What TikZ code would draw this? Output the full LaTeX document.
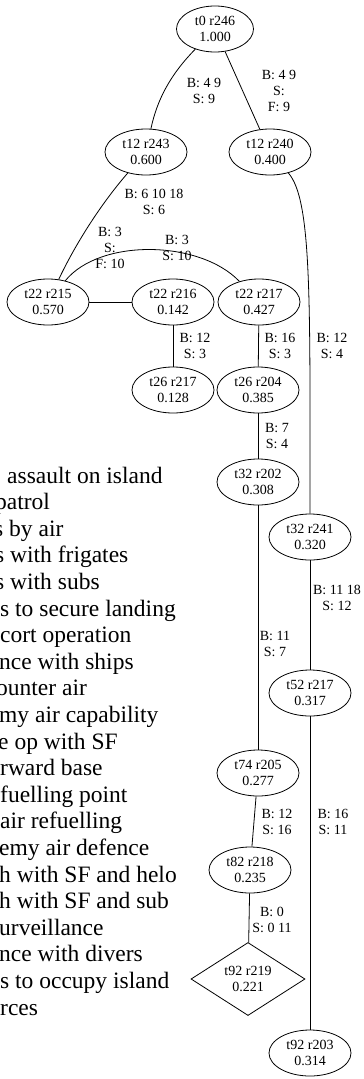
\documentclass[tikz,border=0pt]{standalone}
\usepackage{fontspec}
\setmainfont{Liberation Serif}
\usetikzlibrary{shapes.geometric}
\newcommand{\statefont}{\fontsize{14}{16.5}\selectfont}
\newcommand{\edgefont}{\fontsize{14}{16}\selectfont}
\newcommand{\keyfont}{\fontsize{23.5}{26}\selectfont}

\begin{document}
\begin{tikzpicture}[
    x=1pt, y=-1pt,
    state/.style={ellipse, draw, line width=0.8pt, minimum width=82pt, minimum height=46pt, inner sep=0pt, align=center, font=\statefont},
    goal/.style={diamond, draw, line width=0.8pt, minimum width=114pt, minimum height=68pt, inner sep=0pt, align=center, font=\statefont},
    elab/.style={align=center, inner sep=0pt, font=\edgefont},
    key/.style={anchor=base west, inner sep=0pt, font=\keyfont},
    link/.style={line width=0.8pt}
]
\useasboundingbox (0,0) rectangle (364,1079);
% ---------------- legend (cut at the left edge) ----------------
\node[key] (k1)  at (7,483)     {assault on island};
\node[key] (k2)  at (-5,509.6)  {patrol};
\node[key] (k3)  at (-6,536.2)  {s by air};
\node[key] (k4)  at (-5,562.8)  {s with frigates};
\node[key] (k5)  at (-5,589.4)  {s with subs};
\node[key] (k6)  at (0,616)     {s to secure landing};
\node[key] (k7)  at (0,642.6)   {cort operation};
\node[key] (k8)  at (-1,669.2)  {nce with ships};
\node[key] (k9)  at (-4,695.8)  {ounter air};
\node[key] (k10) at (-1,722.4)  {my air capability};
\node[key] (k11) at (-2,749)    {e op with SF};
\node[key] (k12) at (0,775.6)   {rward base};
\node[key] (k13) at (0,802.2)   {fuelling point};
\node[key] (k14) at (0,828.8)   {air refuelling};
\node[key] (k15) at (-1,855.4)  {emy air defence};
\node[key] (k16) at (-1,882)    {h with SF and helo};
\node[key] (k17) at (-1,908.6)  {h with SF and sub};
\node[key] (k18) at (-1,935.2)  {urveillance};
\node[key] (k19) at (-1,961.8)  {nce with divers};
\node[key] (k20) at (0,988.4)   {s to occupy island};
\node[key] (k21) at (0,1015)    {rces};
% ---------------- states ----------------
\node[state, minimum width=77pt] (t0) at (215,29) {t0 r246\\1.000};
\node[state] (t12a) at (146,152) {t12 r243\\0.600};
\node[state] (t12b) at (270,152) {t12 r240\\0.400};
\node[state] (t22a) at (48,302)  {t22 r215\\0.570};
\node[state] (t22b) at (173,302) {t22 r216\\0.142};
\node[state] (t22c) at (259,302) {t22 r217\\0.427};
\node[state] (t26a) at (173,390) {t26 r217\\0.128};
\node[state] (t26b) at (258,390) {t26 r204\\0.385};
\node[state] (t32a) at (258,482) {t32 r202\\0.308};
\node[state] (t32b) at (310,537) {t32 r241\\0.320};
\node[state] (t52)  at (310,693) {t52 r217\\0.317};
\node[state] (t74)  at (258,773) {t74 r205\\0.277};
\node[state] (t82)  at (250,870) {t82 r218\\0.235};
\node[goal]  (t92a) at (248,979) {t92 r219\\0.221};
\node[state] (t92b) at (310,1053) {t92 r203\\0.314};
% ---------------- transitions ----------------
\draw[link] (t0) .. controls (170,75) and (157,100) .. (t12a);
\draw[link] (t0) -- (t12b);
\draw[link] (t12a) .. controls (100,205) and (75,245) .. (t22a);
\draw[link] (t12b) .. controls (312,200) and (310,300) .. (t32b);
\draw[link] (t22a) -- (t22b);
\draw[link] (t22a) .. controls (100,238) and (200,240) .. (t22c);
\draw[link] (t22b) -- (t26a);
\draw[link] (t22c) -- (t26b);
\draw[link] (t26b) -- (t32a);
\draw[link] (t32a) -- (t74);
\draw[link] (t32b) -- (t52);
\draw[link] (t52) -- (t92b);
\draw[link] (t74) -- (t82);
\draw[link] (t82) -- (t92a);
% ---------------- edge labels ----------------
\node[elab] (e1)  at (204,91)  {B: 4 9\\S: 9};
\node[elab] (e2)  at (279,91)  {B: 4 9\\S:\\F: 9};
\node[elab] (e3)  at (154,202) {B: 6 10 18\\S: 6};
\node[elab] (e4)  at (110,248) {B: 3\\S:\\F: 10};
\node[elab] (e5)  at (177,248) {B: 3\\S: 10};
\node[elab] (e6)  at (195,346) {B: 12\\S: 3};
\node[elab] (e7)  at (280,346) {B: 16\\S: 3};
\node[elab] (e8)  at (332,346) {B: 12\\S: 4};
\node[elab] (e9)  at (277,436) {B: 7\\S: 4};
\node[elab] (e10) at (337,598) {B: 11 18\\S: 12};
\node[elab] (e11) at (275,644) {B: 11\\S: 7};
\node[elab] (e12) at (277,822) {B: 12\\S: 16};
\node[elab] (e13) at (333,822) {B: 16\\S: 11};
\node[elab] (e14) at (272,920) {B: 0\\S: 0 11};
\end{tikzpicture}
\end{document}
